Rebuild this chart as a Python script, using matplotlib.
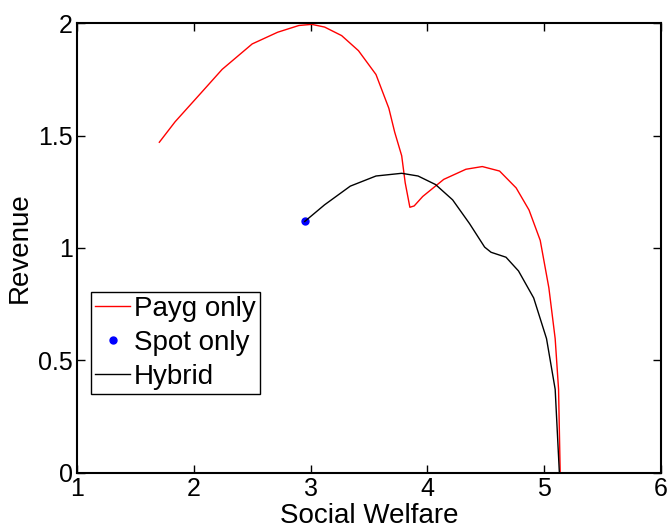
import matplotlib
matplotlib.use("Agg")
import matplotlib.pyplot as plt

plt.rcParams['font.family'] = ['Liberation Sans', 'DejaVu Sans']

# Payg only
payg_x = [1.705, 1.84, 2.06, 2.243, 2.50, 2.718, 2.90, 3.01, 3.12, 3.266, 3.41, 3.56,
          3.67, 3.72, 3.78, 3.81, 3.85, 3.887, 3.96, 4.14, 4.33, 4.47, 4.618, 4.76,
          4.87, 4.966, 5.04, 5.094, 5.123, 5.137]
payg_y = [1.470, 1.561, 1.688, 1.794, 1.907, 1.959, 1.989, 1.994, 1.982, 1.944, 1.877, 1.771,
          1.621, 1.515, 1.41, 1.29, 1.181, 1.187, 1.229, 1.305, 1.35, 1.362, 1.342, 1.267,
          1.169, 1.034, 0.823, 0.597, 0.372, 0.0]

# Spot only
spot_x = [2.95]
spot_y = [1.118]

# Hybrid
hyb_x = [2.95, 3.12, 3.34, 3.56, 3.78, 3.92, 4.07, 4.216, 4.36, 4.49, 4.545, 4.673,
         4.78, 4.91, 5.02, 5.094, 5.13]
hyb_y = [1.118, 1.192, 1.275, 1.32, 1.332, 1.32, 1.282, 1.214, 1.109, 1.004, 0.981, 0.959,
         0.898, 0.778, 0.597, 0.372, 0.0]

fig = plt.figure(figsize=(6.67, 5.29), dpi=100)
ax = fig.add_axes([0.1154, 0.1059, 0.8756, 0.8506])

ax.plot(payg_x, payg_y, color='red', lw=1, label='Payg only')
ax.plot(spot_x, spot_y, 'o', color='blue', ms=5, label='Spot only')
ax.plot(hyb_x, hyb_y, color='black', lw=1, label='Hybrid')

ax.set_xlim(1, 6)
ax.set_ylim(0, 2)
ax.set_xticks([1, 2, 3, 4, 5, 6])
ax.set_yticks([0, 0.5, 1, 1.5, 2])
ax.set_yticklabels(['0', '0.5', '1', '1.5', '2'])
ax.tick_params(direction='in', top=True, right=True, labelsize=18, length=6, width=1, pad=3)
for s in ax.spines.values():
    s.set_linewidth(1.5)

ax.set_xlabel('Social Welfare', fontsize=20, labelpad=1)
ax.set_ylabel('Revenue', fontsize=20, labelpad=4)

leg = ax.legend(loc='lower left', bbox_to_anchor=(0.024, 0.176), fontsize=20, fancybox=False,
                framealpha=1, edgecolor='black', handlelength=1.25, handletextpad=0.15,
                borderaxespad=0, borderpad=0.15, labelspacing=0.28)
leg.get_frame().set_linewidth(1)

fig.savefig('out.png', dpi=100)
